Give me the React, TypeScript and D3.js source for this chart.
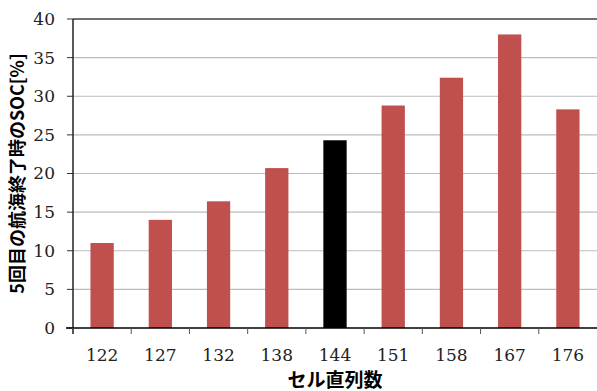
import React, { useEffect } from 'react';
import * as d3 from 'd3';

const categories = ['122', '127', '132', '138', '144', '151', '158', '167', '176'];
const socValues = [11.0, 14.0, 16.4, 20.7, 24.3, 28.8, 32.4, 38.0, 28.3];
const highlighted = '144';
const yTicks = [0, 5, 10, 15, 20, 25, 30, 35, 40];

const width = 597;
const height = 391;
const left = 73;
const right = 597;
const top = 19;
const bottom = 328;

function App() {
  useEffect(() => {
    document.body.style.margin = '0';
  }, []);

  const x = d3
    .scaleBand<string>()
    .domain(categories)
    .range([left, right])
    .paddingInner(0.6)
    .paddingOuter(0.3);
  const y = d3.scaleLinear().domain([0, 40]).range([bottom, top]);

  const step = x.step();
  const gap = (step - x.bandwidth()) / 2;
  // boundaries between categories, used for x tick marks
  const boundaries = categories.map((c) => (x(c) as number) - gap);

  const serif = "'DejaVu Serif', serif";
  const gothic = "'Noto Sans CJK JP', sans-serif";

  return (
    <svg width={width} height={height} style={{ display: 'block' }}>
      {/* gridlines */}
      {yTicks.slice(1).map((t) => (
        <line
          key={'g' + t}
          x1={left}
          x2={right}
          y1={y(t)}
          y2={y(t)}
          stroke={t === 40 ? '#404040' : '#bcbcbc'}
          strokeWidth={t === 40 ? 1.5 : 1.2}
        />
      ))}

      {/* bars */}
      {categories.map((c, i) => (
        <rect
          key={c}
          x={x(c)}
          y={y(socValues[i])}
          width={x.bandwidth()}
          height={bottom - y(socValues[i])}
          fill={c === highlighted ? '#000000' : '#C0504D'}
        />
      ))}

      {/* y axis */}
      <line x1={left} x2={left} y1={top} y2={334} stroke="#000" strokeWidth={1.3} />
      {yTicks.map((t) => (
        <g key={'y' + t}>
          <line x1={67} x2={left} y1={y(t)} y2={y(t)} stroke="#333" strokeWidth={1} />
          <text
            x={55}
            y={y(t)}
            dy="0.35em"
            textAnchor="end"
            fontFamily={serif}
            fontSize={17}
            fill="#222"
          >
            {t}
          </text>
        </g>
      ))}

      {/* x axis */}
      <line x1={66} x2={right} y1={bottom} y2={bottom} stroke="#000" strokeWidth={1.3} />
      {boundaries.map((b, i) => (
        <line key={'xt' + i} x1={b} x2={b} y1={bottom} y2={334} stroke="#555" strokeWidth={1} />
      ))}
      {categories.map((c) => (
        <text
          key={'xl' + c}
          x={(x(c) as number) + x.bandwidth() / 2}
          y={361}
          textAnchor="middle"
          fontFamily={serif}
          fontSize={17}
          fill="#222"
        >
          {c}
        </text>
      ))}

      {/* axis titles */}
      <text
        x={(left + right) / 2}
        y={387}
        textAnchor="middle"
        fontFamily={gothic}
        fontWeight="bold"
        fontSize={19}
        fill="#000"
      >
        セル直列数
      </text>
      <text
        transform={`translate(24, ${(top + bottom) / 2}) rotate(-90)`}
        textAnchor="middle"
        fontFamily={gothic}
        fontWeight="bold"
        fontSize={18}
        fill="#000"
      >
        5回目の航海終了時のSOC[%]
      </text>
    </svg>
  );
}

export default App;
